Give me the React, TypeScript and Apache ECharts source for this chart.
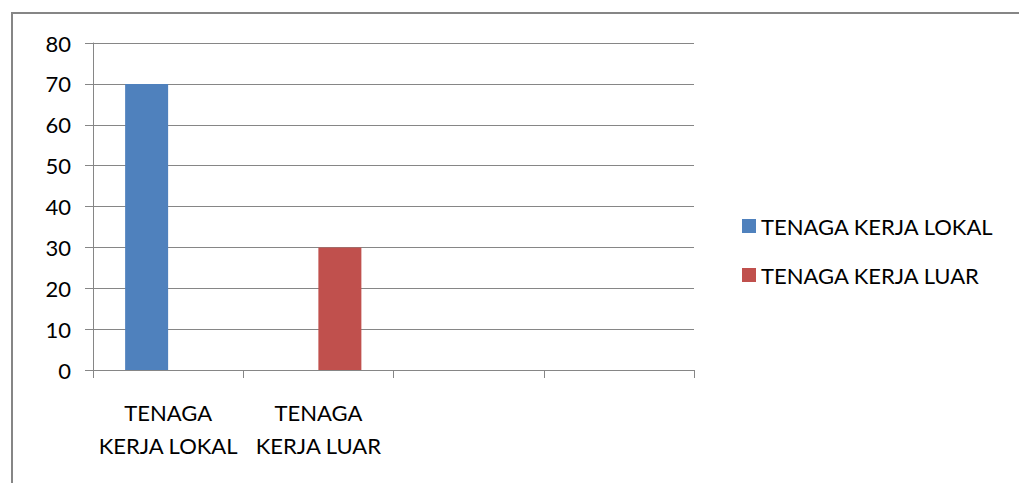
import React, { useEffect, useRef } from "react";
import * as echarts from "echarts";

const categories = ["TENAGA\nKERJA LOKAL", "TENAGA\nKERJA LUAR", "", ""];
const seriesNames = ["TENAGA KERJA LOKAL", "TENAGA KERJA LUAR"];
const lokalValues: (number | string)[] = [70, "-", "-", "-"];
const luarValues: (number | string)[] = ["-", 30, "-", "-"];
const colors = ["#4F81BD", "#C0504D"];

const FONT = "Lato";

export default function App() {
  const ref = useRef<HTMLDivElement>(null);
  useEffect(() => {
    const chart = echarts.init(ref.current!, null, { renderer: "svg" });
    chart.setOption({
      animation: false,
      backgroundColor: "#fff",
      textStyle: { fontFamily: FONT },
      graphic: [
        {
          type: "rect",
          shape: { x: 12, y: 13, width: 1200, height: 700 },
          style: { fill: "none", stroke: "#868686", lineWidth: 2 },
          silent: true,
          z: -1,
        },
      ],
      grid: { left: 93, right: 325, top: 43, bottom: 113 },
      legend: {
        orient: "vertical",
        left: 737,
        top: 210,
        itemWidth: 14,
        itemHeight: 14,
        itemGap: 27,
        icon: "rect",
        textStyle: { fontFamily: FONT, fontSize: 22, color: "#000" },
        data: seriesNames,
      },
      xAxis: {
        type: "category",
        data: categories,
        boundaryGap: true,
        axisLine: { lineStyle: { color: "#868686", width: 1 } },
        axisTick: { show: true, length: 8, lineStyle: { color: "#868686" } },
        axisLabel: {
          color: "#000",
          fontFamily: FONT,
          fontSize: 22,
          lineHeight: 33,
          margin: 26,
          interval: 0,
        },
      },
      yAxis: {
        type: "value",
        min: 0,
        max: 80,
        interval: 10,
        axisLine: { show: true, lineStyle: { color: "#868686" } },
        axisTick: { show: true, length: 8, inside: false, lineStyle: { color: "#868686" } },
        axisLabel: { color: "#000", fontFamily: FONT, fontSize: 22, margin: 22 },
        splitLine: { show: true, lineStyle: { color: "#868686", width: 1 } },
      },
      series: [
        {
          name: seriesNames[0],
          type: "bar",
          data: lokalValues,
          barWidth: 43,
          barGap: "0%",
          itemStyle: { color: colors[0] },
        },
        {
          name: seriesNames[1],
          type: "bar",
          data: luarValues,
          barWidth: 43,
          barGap: "0%",
          itemStyle: { color: colors[1] },
        },
      ],
    });
    return () => chart.dispose();
  }, []);
  return (
    <div
      ref={ref}
      style={{ position: "fixed", left: 0, top: 0, width: 1019, height: 483 }}
    />
  );
}
